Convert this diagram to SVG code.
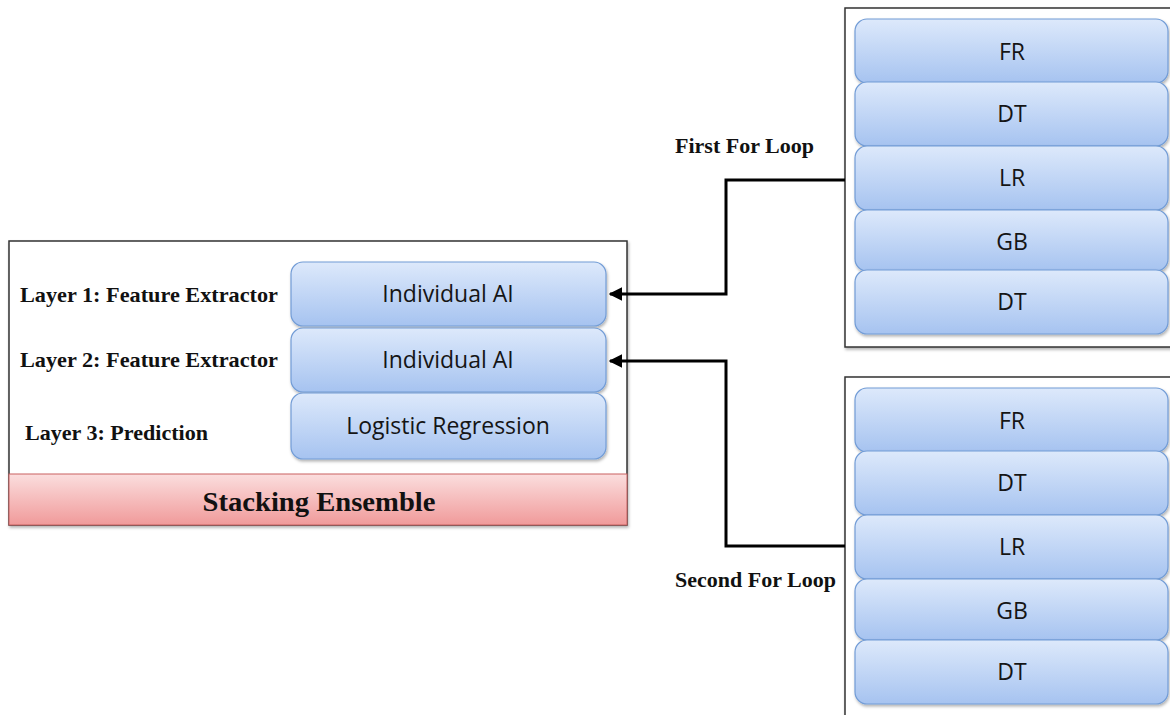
<svg xmlns="http://www.w3.org/2000/svg" width="1170" height="715" viewBox="0 0 1170 715">
  <defs>
    <linearGradient id="blueFill" x1="0" y1="0" x2="0" y2="1">
      <stop offset="0" stop-color="#dde9fb"/>
      <stop offset="1" stop-color="#a6c3f0"/>
    </linearGradient>
    <linearGradient id="pinkFill" x1="0" y1="0" x2="0" y2="1">
      <stop offset="0" stop-color="#fbdede"/>
      <stop offset="1" stop-color="#f09a9a"/>
    </linearGradient>
    <filter id="shadow" x="-5%" y="-5%" width="110%" height="115%">
      <feDropShadow dx="1" dy="2" stdDeviation="1.5" flood-color="#000" flood-opacity="0.3"/>
    </filter>
    <marker id="arrow" viewBox="0 0 10 10" refX="9" refY="5" markerWidth="4.5" markerHeight="4.5" orient="auto-start-reverse">
      <path d="M0,0 L10,5 L0,10 z" fill="#000"/>
    </marker>
  </defs>
  <style>
    .frame { fill: #fff; stroke: #333; stroke-width: 1.5; }
    .block { fill: url(#blueFill); stroke: #729cd6; stroke-width: 1.2; }
    .blockText { font-family: "Open Sans", "Noto Sans", sans-serif; font-size: 23px; fill: #151515; text-anchor: middle; }
    .label { font-family: "Liberation Serif", serif; font-weight: bold; font-size: 21px; fill: #111; }
    .title { font-family: "Liberation Serif", serif; font-weight: bold; font-size: 28px; fill: #111; text-anchor: middle; }
    .wire { fill: none; stroke: #000; stroke-width: 3; }
  </style>

  <rect width="1170" height="715" fill="#fff"/>

  <!-- Stacking ensemble container -->
  <g id="stacking-ensemble">
    <rect class="frame" x="9" y="241" width="618" height="284" filter="url(#shadow)"/>
    <rect x="9" y="474" width="618" height="51" fill="url(#pinkFill)" stroke="#c96060" stroke-width="1"/>
    <text class="title" x="319" y="511" textLength="233" lengthAdjust="spacingAndGlyphs">Stacking Ensemble</text>
  </g>

  <g id="layer1">
    <text class="label" x="20" y="302" textLength="258" lengthAdjust="spacingAndGlyphs">Layer 1: Feature Extractor</text>
    <rect class="block" x="291" y="262" width="315" height="64" rx="12" filter="url(#shadow)"/>
    <text class="blockText" x="448" y="302">Individual AI</text>
  </g>
  <g id="layer2">
    <text class="label" x="20" y="367" textLength="258" lengthAdjust="spacingAndGlyphs">Layer 2: Feature Extractor</text>
    <rect class="block" x="291" y="328" width="315" height="64" rx="12" filter="url(#shadow)"/>
    <text class="blockText" x="448" y="368">Individual AI</text>
  </g>
  <g id="layer3">
    <text class="label" x="25" y="440" textLength="183" lengthAdjust="spacingAndGlyphs">Layer 3: Prediction</text>
    <rect class="block" x="291" y="393" width="315" height="66" rx="12" filter="url(#shadow)"/>
    <text class="blockText" x="448" y="434">Logistic Regression</text>
  </g>

  <!-- First loop model stack -->
  <g id="first-loop">
    <rect class="frame" x="845" y="8" width="330" height="339" filter="url(#shadow)"/>
    <rect class="block" x="855" y="19" width="313" height="64" rx="12" filter="url(#shadow)"/>
    <text class="blockText" x="1012" y="60">FR</text>
    <rect class="block" x="855" y="82" width="313" height="64" rx="12" filter="url(#shadow)"/>
    <text class="blockText" x="1012" y="122">DT</text>
    <rect class="block" x="855" y="146" width="313" height="64" rx="12" filter="url(#shadow)"/>
    <text class="blockText" x="1012" y="186">LR</text>
    <rect class="block" x="855" y="210" width="313" height="61" rx="12" filter="url(#shadow)"/>
    <text class="blockText" x="1012" y="250">GB</text>
    <rect class="block" x="855" y="270" width="313" height="64" rx="12" filter="url(#shadow)"/>
    <text class="blockText" x="1012" y="310">DT</text>
  </g>

  <!-- Second loop model stack -->
  <g id="second-loop">
    <rect class="frame" x="845" y="377" width="330" height="345" filter="url(#shadow)"/>
    <rect class="block" x="855" y="388" width="313" height="64" rx="12" filter="url(#shadow)"/>
    <text class="blockText" x="1012" y="429">FR</text>
    <rect class="block" x="855" y="451" width="313" height="64" rx="12" filter="url(#shadow)"/>
    <text class="blockText" x="1012" y="491">DT</text>
    <rect class="block" x="855" y="515" width="313" height="64" rx="12" filter="url(#shadow)"/>
    <text class="blockText" x="1012" y="555">LR</text>
    <rect class="block" x="855" y="579" width="313" height="61" rx="12" filter="url(#shadow)"/>
    <text class="blockText" x="1012" y="619">GB</text>
    <rect class="block" x="855" y="640" width="313" height="64" rx="12" filter="url(#shadow)"/>
    <text class="blockText" x="1012" y="680">DT</text>
  </g>

  <g id="loop-labels">
    <text class="label" x="675" y="153" textLength="139" lengthAdjust="spacingAndGlyphs">First For Loop</text>
    <text class="label" x="675" y="587" textLength="161" lengthAdjust="spacingAndGlyphs">Second For Loop</text>
  </g>

  <!-- Connectors -->
  <g id="connectors">
    <path class="wire" d="M845,180 H726 V294 H610" marker-end="url(#arrow)"/>
    <path class="wire" d="M845,546 H726 V361 H610" marker-end="url(#arrow)"/>
  </g>
</svg>
